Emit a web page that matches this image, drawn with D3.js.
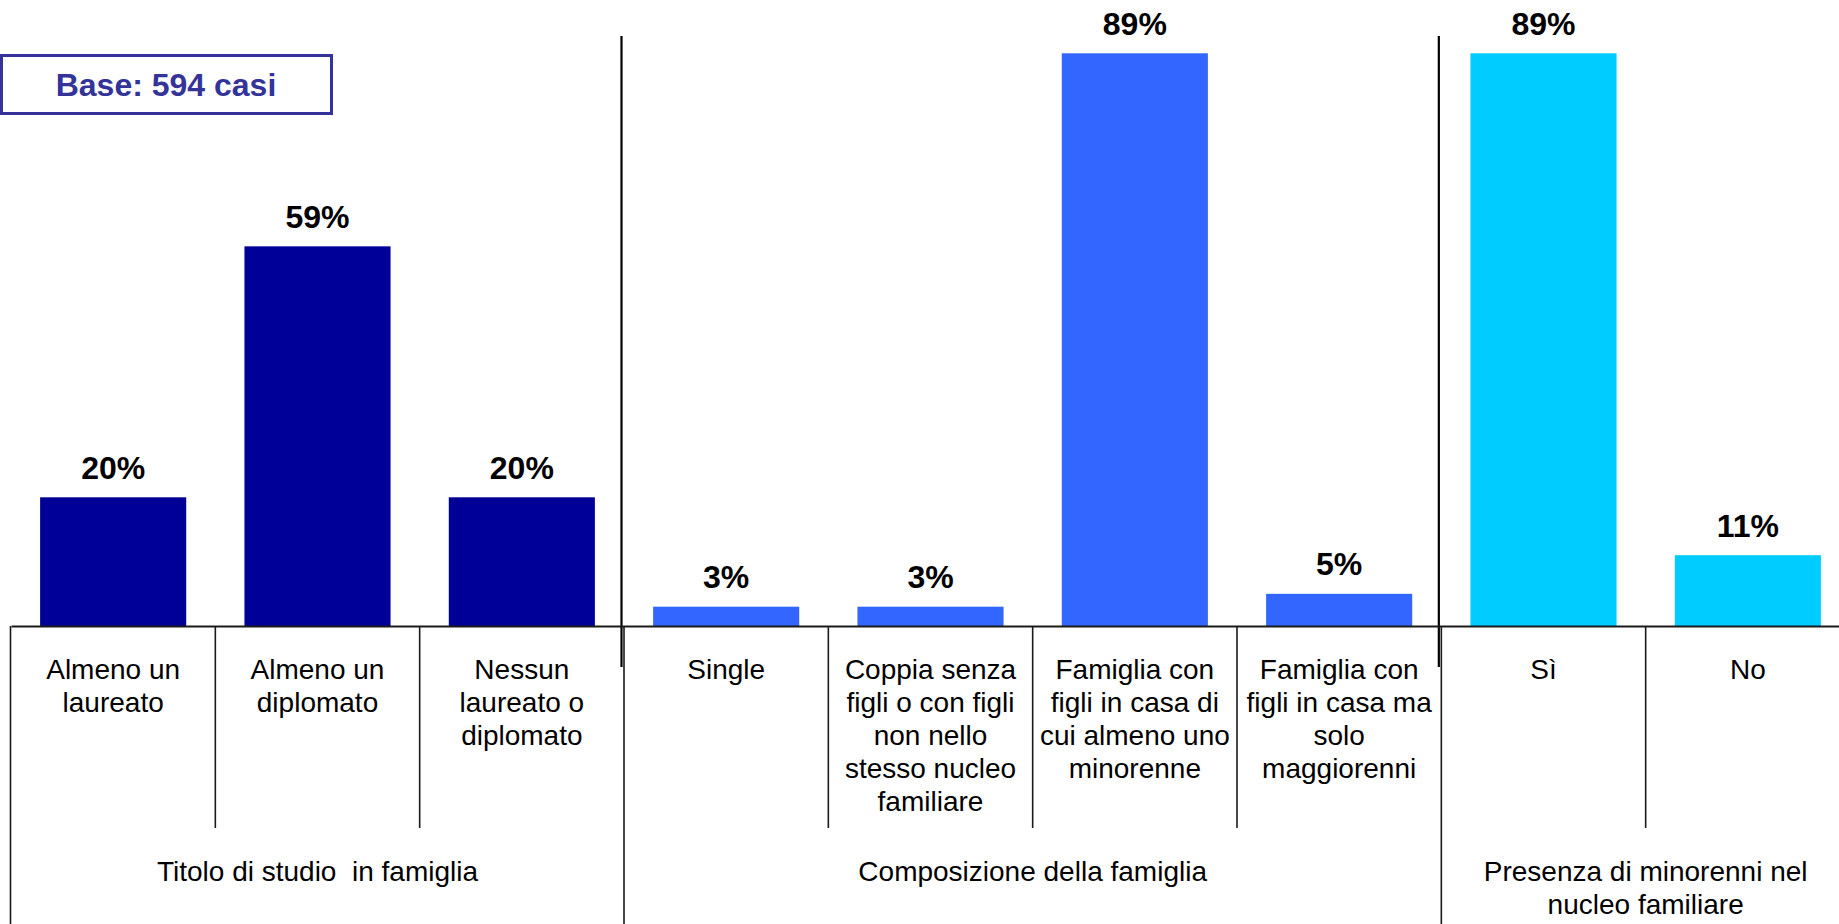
<!DOCTYPE html>
<html>
<head>
<meta charset="utf-8">
<script src="https://cdn.jsdelivr.net/npm/d3@7"></script>
<style>
  html, body { margin: 0; padding: 0; background: #ffffff; }
  svg { display: block; }
  text { font-family: "Liberation Sans", Arial, Helvetica, sans-serif; }
</style>
</head>
<body>
<svg id="chart" width="1839" height="924"></svg>
<script>
// Category labels (line breaks as "\n"), one per bar
const categories = [
  "Almeno un\nlaureato",
  "Almeno un\ndiplomato",
  "Nessun\nlaureato o\ndiplomato",
  "Single",
  "Coppia senza\nfigli o con figli\nnon nello\nstesso nucleo\nfamiliare",
  "Famiglia con\nfigli in casa di\ncui almeno uno\nminorenne",
  "Famiglia con\nfigli in casa ma\nsolo\nmaggiorenni",
  "Sì",
  "No"
];

// Percentages shown above each bar
const values = [20, 59, 20, 3, 3, 89, 5, 89, 11];

// Which group each category belongs to
const groupIndex = [0, 0, 0, 1, 1, 1, 1, 2, 2];

// Group headings shown in the bottom row
const groupLabels = [
  "Titolo di studio  in famiglia",
  "Composizione della famiglia",
  "Presenza di minorenni nel\nnucleo familiare"
];

const groupColors = ["#000099", "#3366FF", "#00CCFF"];

const baseNote = "Base: 594 casi";

// ---- layout ----
const W = 1839, H = 924;
const left = 11, right = 1850;      // the table runs slightly past the right edge
const axisY = 626;
const innerLineBottom = 828;
const sepTop = 36, sepBottom = 667;
const catLineH = 33;

const svg = d3.select("#chart");

const ids = categories.map((_, i) => i);

// cells of the table below the axis
const cell = d3.scaleBand().domain(ids).range([left, right]).padding(0);
// bars centred in each cell
const xBar = d3.scaleBand().domain(ids).range([left, right])
  .paddingInner(0.285).paddingOuter(0.1425);
const y = d3.scaleLinear().domain([0, 100]).range([axisY, -17.5]);

// group extents in cell units
const groups = groupLabels.map((g, gi) => {
  const idx = ids.filter(i => groupIndex[i] === gi);
  return { label: g, x0: cell(idx[0]), x1: cell(idx[idx.length - 1]) + cell.bandwidth() };
});

// ---- bars ----
svg.append("g").selectAll("rect")
  .data(ids)
  .join("rect")
  .attr("x", i => xBar(i))
  .attr("y", i => y(values[i]))
  .attr("width", xBar.bandwidth())
  .attr("height", i => axisY - y(values[i]))
  .attr("fill", i => groupColors[groupIndex[i]]);

// ---- value labels ----
svg.append("g").selectAll("text")
  .data(ids)
  .join("text")
  .attr("x", i => xBar(i) + xBar.bandwidth() / 2)
  .attr("y", i => y(values[i]) - 18.5)
  .attr("text-anchor", "middle")
  .attr("font-size", 32)
  .attr("font-weight", "bold")
  .attr("fill", "#000")
  .text(i => values[i] + "%");

// ---- group separators in the plot area ----
svg.append("g").selectAll("line")
  .data(groups.slice(1))
  .join("line")
  .attr("x1", g => g.x0 - 2.5).attr("x2", g => g.x0 - 2.5)
  .attr("y1", sepTop).attr("y2", sepBottom)
  .attr("stroke", "#000").attr("stroke-width", 2.2);

// ---- table grid below the axis ----
const grid = svg.append("g").attr("stroke", "#1a1a1a").attr("stroke-width", 1.6);

// left border
grid.append("line")
  .attr("x1", left - 0.5).attr("x2", left - 0.5)
  .attr("y1", axisY).attr("y2", H);

// dividers between categories inside a group
grid.selectAll("line.inner")
  .data(ids.filter(i => i > 0 && groupIndex[i] === groupIndex[i - 1]))
  .join("line")
  .attr("class", "inner")
  .attr("x1", i => cell(i)).attr("x2", i => cell(i))
  .attr("y1", axisY).attr("y2", innerLineBottom);

// dividers between groups, full height
grid.selectAll("line.outer")
  .data(groups.slice(1))
  .join("line")
  .attr("class", "outer")
  .attr("x1", g => g.x0).attr("x2", g => g.x0)
  .attr("y1", axisY).attr("y2", H);

// ---- category axis line ----
const axis = svg.append("g")
  .attr("transform", `translate(0,${axisY})`)
  .call(d3.axisBottom(cell).tickSize(0).tickSizeOuter(0).tickFormat(""));
axis.select(".domain").attr("stroke", "#1a1a1a").attr("stroke-width", 2);

// ---- category labels ----
const catText = svg.append("g").selectAll("text")
  .data(ids)
  .join("text")
  .attr("text-anchor", "middle")
  .attr("font-size", 28)
  .attr("fill", "#000");
catText.each(function (i) {
  const cx = cell(i) + cell.bandwidth() / 2;
  d3.select(this).selectAll("tspan")
    .data(categories[i].split("\n"))
    .join("tspan")
    .attr("x", cx)
    .attr("y", (d, k) => 679 + k * catLineH)
    .text(d => d);
});

// ---- group labels ----
svg.append("g").selectAll("text")
  .data(groups)
  .join("text")
  .attr("text-anchor", "middle")
  .attr("font-size", 28)
  .attr("fill", "#000")
  .each(function (g) {
    const cx = (g.x0 + g.x1) / 2;
    d3.select(this).selectAll("tspan")
      .data(g.label.split("\n"))
      .join("tspan")
      .attr("x", cx)
      .attr("y", (d, k) => 881 + k * 32.5)
      .attr("xml:space", "preserve")
      .text(d => d);
  });

// ---- sample size box ----
const note = svg.append("g");
note.append("rect")
  .attr("x", 1.5).attr("y", 55.5)
  .attr("width", 330).attr("height", 58)
  .attr("fill", "#fff")
  .attr("stroke", "#333399").attr("stroke-width", 3);
note.append("text")
  .attr("x", 166).attr("y", 96)
  .attr("text-anchor", "middle")
  .attr("font-size", 32)
  .attr("font-weight", "bold")
  .attr("fill", "#333399")
  .text(baseNote);
</script>
</body>
</html>
